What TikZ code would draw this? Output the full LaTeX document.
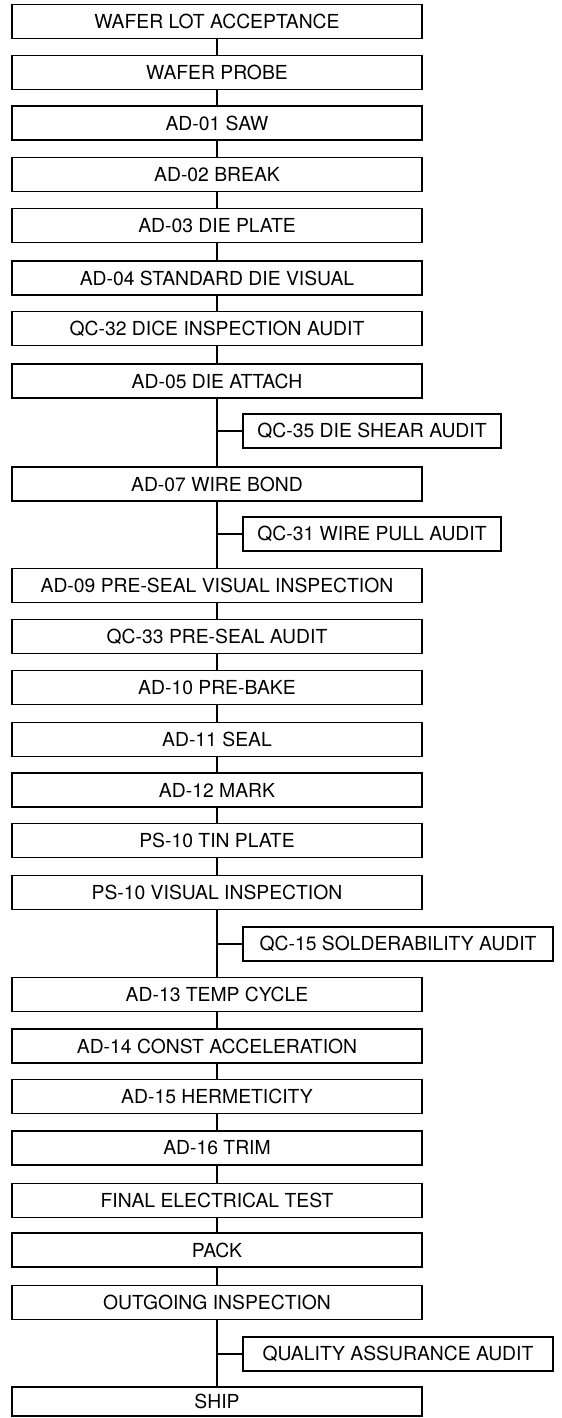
\documentclass[tikz,border=0pt]{standalone}
\usepackage{fontspec}
\setmainfont{TeX Gyre Heros}
\begin{document}
\begin{tikzpicture}[every node/.style={draw,rectangle,line width=1.1pt,minimum height=6.8mm,inner sep=0pt,font=\fontsize{11}{13}\selectfont},
    stepbox/.style={minimum width=8.19cm},
    auditbox/.style={minimum width=5.16cm},
    wideaudit/.style={minimum width=6.2cm},
    link/.style={line width=1.1pt}]
    \useasboundingbox (0,0) rectangle (11.22,-28.36);
    
    \node[stepbox] (01) at (4.34,-0.43)  {WAFER LOT ACCEPTANCE};
    \node[stepbox] (02) at (4.34,-1.45)  {WAFER PROBE};
    \node[stepbox] (03) at (4.34,-2.46)  {AD-01 SAW};
    \node[stepbox] (04) at (4.34,-3.49)  {AD-02 BREAK};
    \node[stepbox] (05) at (4.34,-4.51)  {AD-03 DIE PLATE};
    \node[stepbox] (06) at (4.34,-5.56)  {AD-04 STANDARD DIE VISUAL};
    \node[stepbox] (07) at (4.34,-6.57)  {QC-32 DICE INSPECTION AUDIT};
    \node[stepbox] (08) at (4.34,-7.62)  {AD-05 DIE ATTACH};
    \node[stepbox] (09) at (4.34,-9.68)  {AD-07 WIRE BOND};
    \node[stepbox] (10) at (4.34,-11.71) {AD-09 PRE-SEAL VISUAL INSPECTION};
    \node[stepbox] (11) at (4.34,-12.73) {QC-33 PRE-SEAL AUDIT};
    \node[stepbox] (12) at (4.34,-13.75) {AD-10 PRE-BAKE};
    \node[stepbox] (13) at (4.34,-14.79) {AD-11 SEAL};
    \node[stepbox] (14) at (4.34,-15.80) {AD-12 MARK};
    \node[stepbox] (15) at (4.34,-16.81) {PS-10 TIN PLATE};
    \node[stepbox] (16) at (4.34,-17.85) {PS-10 VISUAL INSPECTION};
    \node[stepbox] (17) at (4.34,-19.89) {AD-13 TEMP CYCLE};
    \node[stepbox] (18) at (4.34,-20.92) {AD-14 CONST ACCELERATION};
    \node[stepbox] (19) at (4.34,-21.93) {AD-15 HERMETICITY};
    \node[stepbox] (20) at (4.34,-22.96) {AD-16 TRIM};
    \node[stepbox] (21) at (4.34,-24.01) {FINAL ELECTRICAL TEST};
    \node[stepbox] (22) at (4.34,-25.00) {PACK};
    \node[stepbox] (23) at (4.34,-26.05) {OUTGOING INSPECTION};
    \node[stepbox,minimum height=5.8mm] (24) at (4.34,-28.03) {SHIP};
    
    \node[auditbox]  (s1) at (7.44,-8.62)  {QC-35 DIE SHEAR AUDIT};
    \node[auditbox]  (s2) at (7.44,-10.68) {QC-31 WIRE PULL AUDIT};
    \node[wideaudit] (s3) at (7.96,-18.88) {QC-15 SOLDERABILITY AUDIT};
    \node[wideaudit] (s4) at (7.96,-27.08) {QUALITY ASSURANCE AUDIT};
    
    \draw[link] (01) -- (02) -- (03) -- (04) -- (05) -- (06) -- (07) -- (08);
    \draw[link] (08) -- (09) -- (10) -- (11) -- (12) -- (13) -- (14) -- (15) -- (16);
    \draw[link] (16) -- (17) -- (18) -- (19) -- (20) -- (21) -- (22) -- (23) -- (24);
    
    \draw[link] (s1.west) -- (s1.west -| 08);
    \draw[link] (s2.west) -- (s2.west -| 09);
    \draw[link] (s3.west) -- (s3.west -| 16);
    \draw[link] (s4.west) -- (s4.west -| 23);
    \end{tikzpicture}
\end{document}
